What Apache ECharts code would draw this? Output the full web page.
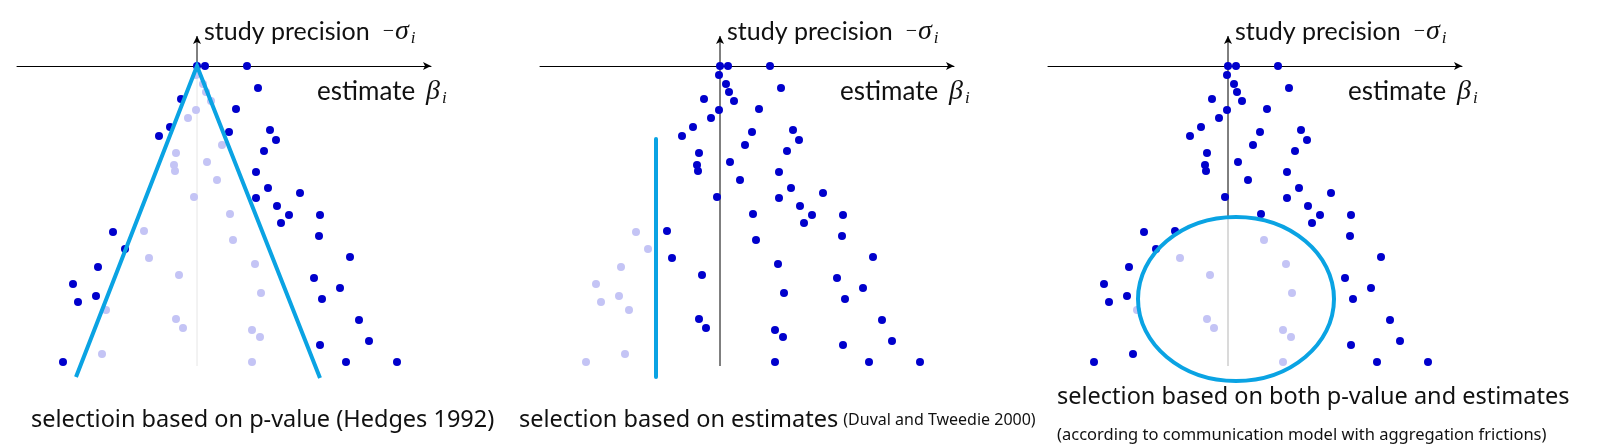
<!DOCTYPE html>
<html>
<head>
<meta charset="utf-8">
<script src="https://cdn.jsdelivr.net/npm/echarts@6/dist/echarts.min.js"></script>
<style>
    html, body { margin: 0; padding: 0; background: #fff; }
    #chartWrapper { width: 1601px; height: 448px; }
</style>
</head>
<body>
<div id="chartWrapper"></div>
<script>
// estimate beta_i and standard error sigma_i of each study (same studies in all three panels)
let estimates = [0, 0.8, 5.0, -0.1, 0.6, 0.9, 1.4, -1.6, -0.1, -0.9,
    3.9, -2.7, -3.8, 3.2, 2.5, 7.3, 7.9, 6.7, -2.1, -2.3,
    -2.2, 1.0, 2.0, 5.9, 7.1, 10.3, -0.3, 5.9, 8.0, 9.2,
    12.3, 3.3, 8.4, 12.2, -5.3, 3.6, -4.8, 15.3, 5.8, -1.8,
    11.7, 14.3, 6.4, 12.5, -2.1, -1.4, 16.2, 5.5, 6.3, 12.3,
    17.2, 5.5, 14.9, 20.0, -8.4, -7.2, -9.9, -12.4, -11.9, -10.1,
    -9.1, -9.5, -13.4, 6.1];
let sigmas = [0, 0, 0, 0.9, 1.8, 2.6, 3.5, 3.3, 4.4, 5.2,
    4.3, 6.1, 7.0, 6.6, 7.9, 6.4, 7.4, 8.5, 8.7, 9.9,
    10.5, 9.6, 11.4, 10.6, 12.2, 12.7, 13.1, 13.2, 14.0, 14.9,
    14.9, 14.8, 15.7, 17.0, 16.5, 17.4, 19.2, 19.1, 19.8, 20.9,
    21.2, 22.2, 22.7, 23.3, 25.3, 26.2, 25.4, 26.4, 27.1, 27.9,
    27.5, 29.6, 29.6, 29.6, 16.6, 18.3, 20.1, 21.8, 23.6, 23.0,
    24.4, 28.8, 29.6, 2.2];

// studies drawn faded (not published) in each panel
let fadedByPValue = [3, 4, 5, 6, 8, 9, 14, 18, 19, 20, 21, 22, 26, 31, 34, 35, 36, 38, 39, 42, 44, 45, 47, 48, 51, 60, 61];
let fadedByEstimate = [54, 55, 56, 57, 58, 59, 60, 61, 62];
let fadedByBoth = [35, 36, 38, 39, 42, 44, 45, 47, 48, 51, 60];

// selection regions
let pValueBounds = [[-12.1, -31.1], [0, 0], [12.3, -31.2]];
let estimateCutoff = [[-6.4, -7.3], [-6.4, -31.1]];
let bothEllipse = [0.8, -23.3, 9.8, 8.2];   // cx, cy, rx, ry

let axisTop = 3.0;
let axisBottom = -30;

let captions = [
    '{a|selectioin based on p-value (Hedges 1992)}',
    '{a|selection based on estimates} {b|(Duval and Tweedie 2000)}',
    '{a|selection based on both p-value and estimates}'
];
let subCaption = '(according to communication model with aggregation frictions)';

let myChart = echarts.init(document.getElementById('chartWrapper'));

let dark = '#0000cc';
let light = '#c4c4f5';
let cyan = '#0aa3e3';
let panelLeft = [17, 540, 1048];

function pointsFor(faded, wantFaded) {
    let out = [];
    for (let i = 0; i < estimates.length; i++) {
        if ((faded.indexOf(i) >= 0) === wantFaded) {
            out.push([estimates[i], -sigmas[i]]);
        }
    }
    return out;
}

let labelRich = {
    y: { fontFamily: 'Lato', fontSize: 25, color: '#111', lineHeight: 30, verticalAlign: 'middle' },
    x: { fontFamily: 'Lato', fontSize: 26, color: '#111', lineHeight: 30, verticalAlign: 'middle' },
    m: { fontFamily: 'Liberation Serif', fontSize: 20, color: '#111', padding: [0, 1, 0, 13], verticalAlign: 'middle' },
    g: { fontFamily: 'Liberation Serif', fontStyle: 'italic', fontSize: 28, color: '#111', verticalAlign: 'middle' },
    gb: { fontFamily: 'Liberation Serif', fontStyle: 'italic', fontSize: 28, color: '#111', verticalAlign: 'middle', padding: [0, 0, 0, 11] },
    s: { fontFamily: 'Liberation Serif', fontStyle: 'italic', fontSize: 17, color: '#111', verticalAlign: 'bottom', lineHeight: 30, padding: [0, 0, 0, 2] }
};

let grids = [], xAxes = [], yAxes = [], series = [], titles = [];
let fadedSets = [fadedByPValue, fadedByEstimate, fadedByBoth];

for (let p = 0; p < 3; p++) {
    grids.push({ left: panelLeft[p], top: 32, width: 414, height: 349 });
    xAxes.push({
        gridIndex: p, type: 'value', min: -18, max: 23.4,
        axisLine: { show: true, onZero: true, symbol: ['none', 'arrow'], symbolSize: [6, 8],
            lineStyle: { color: '#000', width: 1 } },
        axisTick: { show: false }, axisLabel: { show: false }, splitLine: { show: false },
        name: '{x|estimate}{gb|β}{s|i}', nameLocation: 'end', nameGap: -114,
        nameTextStyle: { align: 'left', verticalAlign: 'middle', padding: [52, 0, 0, 0], rich: labelRich }
    });
    yAxes.push({
        gridIndex: p, type: 'value', min: -31.5, max: 3.4,
        axisLine: { show: false }, axisTick: { show: false }, axisLabel: { show: false },
        splitLine: { show: false },
        name: '{y|study precision}{m|−}{g|σ}{s|i}', nameLocation: 'end', nameGap: 0,
        nameTextStyle: { align: 'left', verticalAlign: 'middle', padding: [0, 0, 0, 7], rich: labelRich }
    });
}

// vertical axis pieces: black above the cut, grey below it
let axisBreaks = [0, axisBottom, bothEllipse[1] + bothEllipse[3]];
let lowerColors = ['#e6e6e6', '#000', '#b5b5b5'];
for (let p = 0; p < 3; p++) {
    series.push({
        type: 'line', xAxisIndex: p, yAxisIndex: p, z: 1, silent: true,
        symbol: 'none', lineStyle: { color: lowerColors[p], width: 1 },
        data: [[0, axisBottom], [0, axisBreaks[p]]]
    });
    series.push({
        type: 'line', xAxisIndex: p, yAxisIndex: p, z: 1, silent: true,
        symbol: 'none', showSymbol: true, lineStyle: { color: '#000', width: 1 },
        itemStyle: { color: '#000' },
        data: [[0, axisBreaks[p]], { value: [0, axisTop], symbol: 'arrow', symbolSize: [6, 8] }]
    });
    series.push({
        type: 'scatter', xAxisIndex: p, yAxisIndex: p, z: 2, symbolSize: 8,
        itemStyle: { color: light, opacity: 1 }, data: pointsFor(fadedSets[p], true)
    });
    series.push({
        type: 'scatter', xAxisIndex: p, yAxisIndex: p, z: 3, symbolSize: 8,
        itemStyle: { color: dark, opacity: 1 }, data: pointsFor(fadedSets[p], false)
    });
}

series.push({
    type: 'line', xAxisIndex: 0, yAxisIndex: 0, z: 5, symbol: 'none',
    lineStyle: { color: cyan, width: 4, join: 'miter', cap: 'butt' },
    data: pValueBounds
});
series.push({
    type: 'line', xAxisIndex: 1, yAxisIndex: 1, z: 5, symbol: 'none',
    lineStyle: { color: cyan, width: 4, cap: 'round' },
    data: estimateCutoff
});
series.push({
    type: 'custom', xAxisIndex: 2, yAxisIndex: 2, z: 5, clip: false,
    data: [bothEllipse],
    renderItem: function (params, api) {
        let c = api.coord([api.value(0), api.value(1)]);
        let s = api.size([api.value(2), api.value(3)]);
        return {
            type: 'ellipse',
            shape: { cx: c[0], cy: c[1], rx: s[0], ry: s[1] },
            style: { fill: 'none', stroke: cyan, lineWidth: 4 }
        };
    }
});

let captionRich = {
    a: { fontFamily: 'Noto Sans', fontSize: 23.5, fontWeight: 'normal', color: '#111', lineHeight: 28 },
    b: { fontFamily: 'Noto Sans', fontSize: 16, fontWeight: 'normal', color: '#111', lineHeight: 28 }
};
titles.push({ text: captions[0], left: 31, top: 406, padding: 0, textStyle: { fontWeight: 'normal', rich: captionRich } });
titles.push({ text: captions[1], left: 519, top: 406, padding: 0, textStyle: { fontWeight: 'normal', rich: captionRich } });
titles.push({
    text: captions[2], subtext: subCaption, left: 1057, top: 383, padding: 0, itemGap: 18,
    textStyle: { fontWeight: 'normal', rich: captionRich },
    subtextStyle: { fontFamily: 'Noto Sans', fontSize: 16.5, color: '#111', lineHeight: 20 }
});

let option = {
    animation: false,
    backgroundColor: '#fff',
    title: titles,
    grid: grids,
    xAxis: xAxes,
    yAxis: yAxes,
    series: series
};

myChart.setOption(option);
</script>
</body>
</html>
